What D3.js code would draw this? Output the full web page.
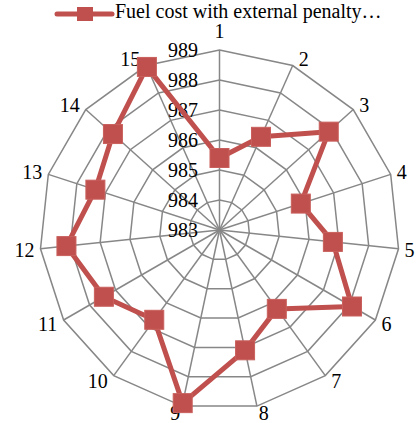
<!DOCTYPE html>
<html><head><meta charset="utf-8">
<script src="https://cdn.jsdelivr.net/npm/d3@7"></script>
<style>body{margin:0;background:#fff}svg{display:block}text{font-family:"Liberation Serif","Times New Roman",serif;fill:#000}</style>
</head><body>
<svg id="c" width="417" height="423"></svg>
<script>
const categories = ["1","2","3","4","5","6","7","8","9","10","11","12","13","14","15"];
const values = [985.4, 986.4, 987.9, 985.85, 986.8, 988.1, 986.25, 987.1, 988.9, 986.7, 987.45, 988.13, 987.35, 987.78, 988.95];
const tickValues = [983, 984, 985, 986, 987, 988, 989];
const seriesName = "Fuel cost with external penalty…";

const svg = d3.select("#c");
const cx = 219.5, cy = 230, R = 180;
const color = "#c0504d", grid = "#878787";
const r = d3.scaleLinear().domain([983, 989]).range([0, R]);
const ang = d3.scalePoint().domain(categories).range([0, 2*Math.PI*(categories.length-1)/categories.length]);
const pt = (c, v) => [cx + r(v)*Math.sin(ang(c)), cy - r(v)*Math.cos(ang(c))];

const g = svg.append("g");
// rings
tickValues.slice(1).forEach(t => {
  g.append("polygon")
    .attr("points", categories.map(c => pt(c, t).join(",")).join(" "))
    .attr("fill","none").attr("stroke",grid).attr("stroke-width",1.5);
});
// spokes
categories.forEach(c => {
  const [x,y] = pt(c, 989);
  g.append("line").attr("x1",cx).attr("y1",cy).attr("x2",x).attr("y2",y)
    .attr("stroke",grid).attr("stroke-width",1.5);
});
// tick labels
tickValues.forEach(t => {
  g.append("text").attr("x", 198).attr("y", cy - r(t))
    .attr("text-anchor","end").attr("dominant-baseline","central")
    .attr("font-size",20).text(t);
});
// category labels
categories.forEach(c => {
  const a = ang(c), s = Math.sin(a), co = Math.cos(a);
  const [x,y] = pt(c, 989);
  const w = c.length * 10;
  const k = Math.max(-1, Math.min(1, s*3));
  const dx = k*(w/2+6);
  let dy = -co*7;
  if (co > 0) dy -= 12*Math.max(0, 1 - Math.abs(s)*3);
  g.append("text").attr("x", x+dx).attr("y", y+dy)
    .attr("text-anchor","middle").attr("dominant-baseline","central")
    .attr("font-size",20).text(c);
});
// series
const pts = categories.map((c,i) => pt(c, values[i]));
g.append("path").attr("d", d3.line().curve(d3.curveLinearClosed)(pts))
  .attr("fill","none").attr("stroke",color).attr("stroke-width",5).attr("stroke-linejoin","round");
const ms = 19;
g.selectAll("rect.m").data(pts).join("rect").attr("class","m")
  .attr("x", d => d[0]-ms/2).attr("y", d => d[1]-ms/2)
  .attr("width", ms).attr("height", ms)
  .attr("fill", color).attr("stroke", "#c9605d").attr("stroke-width", 1);
// legend
const lg = svg.append("g");
lg.append("line").attr("x1",57).attr("x2",112).attr("y1",14).attr("y2",14)
  .attr("stroke",color).attr("stroke-width",5).attr("stroke-linecap","round");
lg.append("rect").attr("x",85-8).attr("y",14-7).attr("width",16).attr("height",14).attr("fill",color);
lg.append("text").attr("x",115).attr("y",18)
  .attr("font-size",20).text(seriesName);
</script>
</body></html>
